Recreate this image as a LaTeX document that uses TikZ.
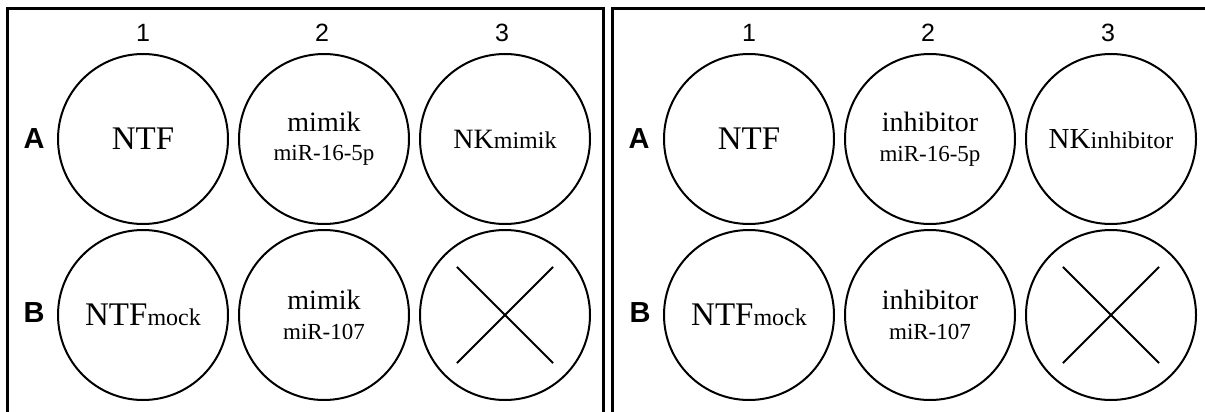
\documentclass[tikz,border=0pt]{standalone}
\usepackage{fontspec}
\setmainfont{Liberation Serif}
\setsansfont{Liberation Sans}
\usetikzlibrary{positioning}
\newcommand{\fsz}[1]{\fontsize{#1}{25}\selectfont}

\begin{document}
\begin{tikzpicture}[x=1pt, y=-1pt,
    well/.style={draw, line width=2pt, circle, minimum size=170pt, inner sep=0pt, align=center},
    panel/.style={line width=3pt},
    collabel/.style={font=\sffamily\fsz{25}},
    rowlabel/.style={font=\sffamily\bfseries\fsz{29}},
    cross/.style={line width=2pt, shorten <=18pt, shorten >=18pt}]
    \useasboundingbox (0,0) rectangle (1205,412);
    \clip (0,0) rectangle (1205,412);

    % Frames
    \draw[panel] (7,9) rectangle (603,440);
    \draw[panel] (612,9) rectangle (1230,440);

    % Left plate: mimik
    \node[well] (lA1) at (143,139) {\fsz{33}NTF};
    \node[well, right=9pt of lA1] (lA2) {\fsz{28}mimik\\[13pt]\fsz{23}miR-16-5p};
    \node[well, right=9pt of lA2] (lA3) {\fsz{28}NK\fsz{24}mimik};
    \node[well, below=4pt of lA1] (lB1) {\fsz{33}NTF\fsz{24}mock};
    \node[well, below=4pt of lA2] (lB2) {\fsz{28}mimik\\[13pt]\fsz{23}miR-107};
    \node[well, below=4pt of lA3] (lB3) {};
    \draw[cross] (lB3.north west) -- (lB3.south east);
    \draw[cross] (lB3.north east) -- (lB3.south west);

    \node[collabel] (lc1) at (143,33) {1};
    \node[collabel] (lc2) at (322,33) {2};
    \node[collabel] (lc3) at (502,33) {3};
    \node[rowlabel] (lrA) at (34,139) {A};
    \node[rowlabel] (lrB) at (34,313) {B};

    % Right plate: inhibitor
    \node[well] (rA1) at (749,139) {\fsz{33}NTF};
    \node[well, right=9pt of rA1] (rA2) {\fsz{28}inhibitor\\[13pt]\fsz{23}miR-16-5p};
    \node[well, right=9pt of rA2] (rA3) {\fsz{29}NK\fsz{24}inhibitor};
    \node[well, below=4pt of rA1] (rB1) {\fsz{33}NTF\fsz{24}mock};
    \node[well, below=4pt of rA2] (rB2) {\fsz{28}inhibitor\\[13pt]\fsz{23}miR-107};
    \node[well, below=4pt of rA3] (rB3) {};
    \draw[cross] (rB3.north west) -- (rB3.south east);
    \draw[cross] (rB3.north east) -- (rB3.south west);

    \node[collabel] (rc1) at (749,33) {1};
    \node[collabel] (rc2) at (928,33) {2};
    \node[collabel] (rc3) at (1108,33) {3};
    \node[rowlabel] (rrA) at (639,139) {A};
    \node[rowlabel] (rrB) at (640,313) {B};
\end{tikzpicture}
\end{document}
